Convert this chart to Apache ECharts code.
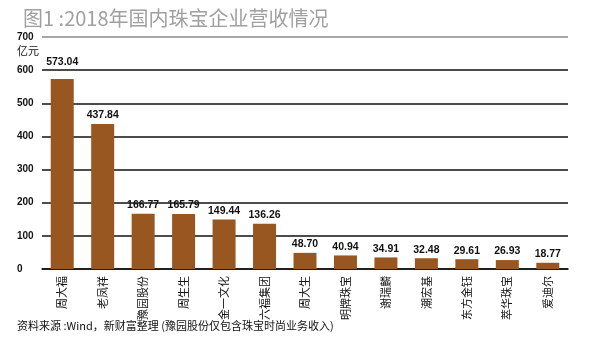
<!DOCTYPE html>
<html>
<head>
<meta charset="utf-8">
<script src="https://cdn.jsdelivr.net/npm/echarts@6/dist/echarts.min.js"></script>
<style>
  html, body { margin: 0; padding: 0; background: #fff; }
  #main { width: 589px; height: 352px; }
</style>
</head>
<body>
<div id="main"></div>
<script>
var companies = ['周大福', '老凤祥', '豫园股份', '周生生', '金一文化', '六福集团', '周大生', '明牌珠宝', '谢瑞麟', '潮宏基', '东方金钰', '萃华珠宝', '爱迪尔'];
var revenue = [573.04, 437.84, 166.77, 165.79, 149.44, 136.26, 48.70, 40.94, 34.91, 32.48, 29.61, 26.93, 18.77];
var yTicks = [0, 100, 200, 300, 400, 500, 600, 700];

var numFont = '"Liberation Sans", Arial, sans-serif';
var cjkFont = '"Noto Sans CJK SC", sans-serif';

// the tallest bar's label sits above the 600 line
var barData = revenue.map(function (v, i) {
  return i === 0 ? { value: v, label: { distance: 11 } } : v;
});

var chart = echarts.init(document.getElementById('main'));
chart.setOption({
  animation: false,
  title: {
    text: '图1 :2018年国内珠宝企业营收情况',
    left: 18,
    top: 3,
    textStyle: { color: '#a0a0a0', fontSize: 20, fontWeight: 'normal', fontFamily: cjkFont }
  },
  graphic: [
    {
      type: 'text', left: 17, top: 45,
      style: { text: '亿元', fill: '#111', fontSize: 11, fontFamily: cjkFont }
    },
    {
      type: 'text', left: 17, top: 320,
      style: { text: '资料来源 :Wind，新财富整理 (豫园股份仅包含珠宝时尚业务收入)', fill: '#111', fontSize: 11, fontFamily: cjkFont }
    }
  ],
  grid: { left: 42, right: 21, top: 37, bottom: 83 },
  xAxis: {
    type: 'category',
    data: companies,
    axisTick: { show: false },
    axisLine: { lineStyle: { color: '#111', width: 1.5 } },
    axisLabel: {
      rotate: 90,
      interval: 0,
      margin: 7,
      color: '#111',
      fontSize: 11,
      fontFamily: cjkFont
    }
  },
  yAxis: {
    type: 'value',
    min: 0,
    max: yTicks[yTicks.length - 1],
    interval: 100,
    axisLine: { show: false },
    axisTick: { show: false },
    axisLabel: {
      margin: 13,
      align: 'left',
      padding: [0, 0, 0, -12],
      color: '#111',
      fontSize: 10,
      fontWeight: 'bold',
      fontFamily: numFont,
      formatter: function (v) { return yTicks.indexOf(v) >= 0 ? String(v) : ''; }
    },
    splitLine: {
      lineStyle: {
        color: ['#111', '#111', '#111', '#111', '#111', '#111', '#111', '#888'],
        width: 1.5
      }
    }
  },
  series: [{
    type: 'bar',
    data: barData,
    barWidth: 23,
    itemStyle: { color: '#985620' },
    label: {
      show: true,
      position: 'top',
      distance: 3,
      color: '#111',
      fontSize: 10.5,
      fontWeight: 'bold',
      fontFamily: numFont,
      formatter: function (p) { return p.value.toFixed(2); }
    }
  }]
});
</script>
</body>
</html>
